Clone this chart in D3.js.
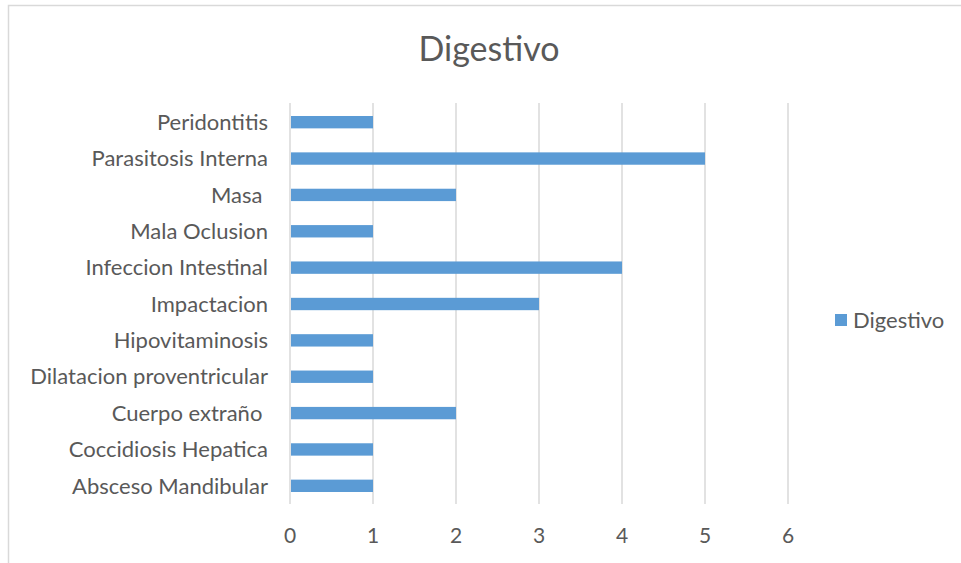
<!DOCTYPE html>
<html>
<head>
<meta charset="utf-8">
<script src="https://cdn.jsdelivr.net/npm/d3@7"></script>
<style>
  body { margin: 0; background: #fff; }
  text { font-family: Lato, "Open Sans", sans-serif; fill: #595959; }
</style>
</head>
<body>
<script>
// data, bottom to top as in the chart
var categories = ['Absceso Mandibular', 'Coccidiosis Hepatica', 'Cuerpo extraño ', 'Dilatacion proventricular',
  'Hipovitaminosis', 'Impactacion', 'Infeccion Intestinal', 'Mala Oclusion', 'Masa ', 'Parasitosis Interna', 'Peridontitis'];
var values = [1, 1, 2, 1, 1, 3, 4, 1, 2, 5, 1];
var xTicks = [0, 1, 2, 3, 4, 5, 6];
var seriesName = 'Digestivo';
var chartTitle = 'Digestivo';

var W = 961, H = 563;
var plotLeft = 290, plotRight = 788, plotTop = 104, plotBottom = 504;

var svg = d3.select('body').append('svg').attr('width', W).attr('height', H);

// chart frame
svg.append('rect').attr('x', 8.5).attr('y', 5.5).attr('width', 970).attr('height', 600)
  .attr('fill', 'none').attr('stroke', '#d9d9d9').attr('stroke-width', 1.5);

var x = d3.scaleLinear().domain([0, 6]).range([plotLeft, plotRight]);
var y = d3.scaleBand().domain(categories.slice().reverse()).range([plotTop, plotBottom])
  .paddingInner(0.66).paddingOuter(0.33);

// gridlines
svg.append('g').selectAll('line').data(xTicks).enter().append('line')
  .attr('x1', d => x(d)).attr('x2', d => x(d)).attr('y1', plotTop - 1).attr('y2', plotBottom)
  .attr('stroke', '#d9d9d9').attr('stroke-width', 1.5);

// bars
svg.append('g').selectAll('rect').data(categories).enter().append('rect')
  .attr('x', x(0) + 1).attr('y', d => y(d))
  .attr('width', (d, i) => x(values[i]) - x(0) - 1).attr('height', y.bandwidth())
  .attr('fill', '#5b9bd5');

// category labels
svg.append('g').selectAll('text').data(categories).enter().append('text')
  .attr('x', 268).attr('y', d => y(d) + y.bandwidth() / 2).attr('dy', '0.35em')
  .attr('text-anchor', 'end').attr('font-size', '22px').style('white-space', 'pre')
  .text(d => d);

// x tick labels
svg.append('g').selectAll('text').data(xTicks).enter().append('text')
  .attr('x', d => x(d)).attr('y', 543).attr('text-anchor', 'middle').attr('font-size', '21px')
  .text(d => d);

// title
svg.append('text').attr('x', 489).attr('y', 61).attr('text-anchor', 'middle')
  .attr('font-size', '34px').text(chartTitle);

// legend
svg.append('rect').attr('x', 835).attr('y', 314).attr('width', 12).attr('height', 12).attr('fill', '#5b9bd5');
svg.append('text').attr('x', 853).attr('y', 328).attr('font-size', '22px').text(seriesName);
</script>
</body>
</html>
